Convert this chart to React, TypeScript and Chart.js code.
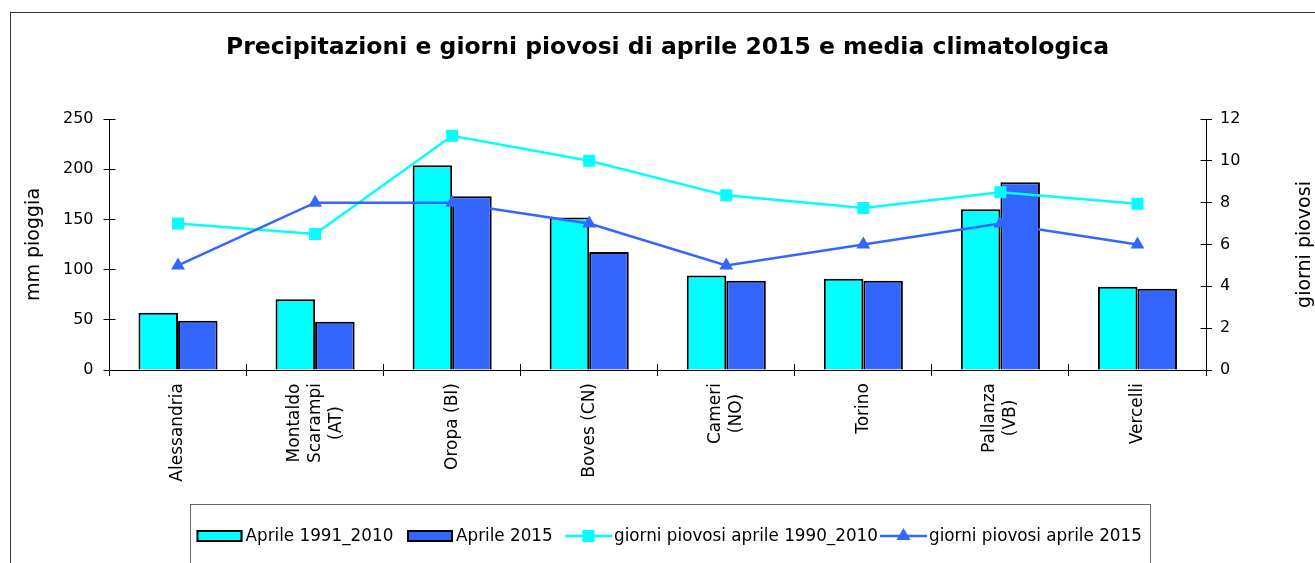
import React, { useEffect, useRef } from "react";
import { Chart, registerables } from "chart.js";

Chart.register(...registerables);

// ---------- data ----------
const categories: string[][] = [
  ["Alessandria"],
  ["Montaldo", "Scarampi", "(AT)"],
  ["Oropa (BI)"],
  ["Boves (CN)"],
  ["Cameri", "(NO)"],
  ["Torino"],
  ["Pallanza", "(VB)"],
  ["Vercelli"],
];
const rain1991_2010 = [57, 70.5, 204, 152, 94, 91, 160, 83];
const rain2015 = [49, 48, 173, 117.5, 89, 89, 187, 81];
const days1990_2010 = [7.0, 6.5, 11.2, 10.0, 8.35, 7.75, 8.5, 7.95];
const days2015 = [5, 8, 8, 7, 5, 6, 7, 6];
const seriesNames = [
  "Aprile 1991_2010",
  "Aprile 2015",
  "giorni piovosi aprile 1990_2010",
  "giorni piovosi aprile 2015",
];
const leftAxisRange = [0, 250, 50];
const rightAxisRange = [0, 12, 2];
const chartTitle = "Precipitazioni e giorni piovosi di aprile 2015 e media climatologica";
const leftAxisTitle = "mm pioggia";
const rightAxisTitle = "giorni piovosi";

// ---------- styles ----------
const FONT = "'DejaVu Sans', sans-serif";
const CYAN = "#00FFFF";
const BLUE = "#3366FF";
const W = 1315;
const H = 580;
const PLOT_BOTTOM = 358;
const LEGEND_ITEM_X = [186.5, 397, 555, 870];

const decorPlugin = {
  id: "decor",
  afterDraw(chart: any) {
    const ctx = chart.ctx as CanvasRenderingContext2D;
    const area = chart.chartArea;
    const xs = chart.scales.x;
    ctx.save();

    // outer border
    ctx.strokeStyle = "#333";
    ctx.lineWidth = 1;
    ctx.strokeRect(0.5, 0.5, W + 20, H + 20);

    // inner halves of tick marks
    ctx.strokeStyle = "#000";
    ctx.lineWidth = 1;
    const yl = chart.scales.y;
    const yr = chart.scales.y1;
    const lx = Math.round(area.left - 0.5) + 0.5;
    const rx = Math.round(area.right - 0.5) + 0.5;
    ctx.beginPath();
    yl.ticks.forEach((_: any, i: number) => {
      const py = Math.round(yl.getPixelForTick(i) - 0.5) + 0.5;
      ctx.moveTo(lx, py);
      ctx.lineTo(lx + 6, py);
    });
    yr.ticks.forEach((_: any, i: number) => {
      const py = Math.round(yr.getPixelForTick(i) - 0.5) + 0.5;
      ctx.moveTo(rx - 6, py);
      ctx.lineTo(rx, py);
    });
    const n = categories.length;
    const step = (area.right - area.left) / n;
    for (let i = 0; i <= n; i++) {
      const px = Math.round(area.left + i * step - 0.5) + 0.5;
      ctx.moveTo(px, area.bottom);
      ctx.lineTo(px, area.bottom - 6);
    }
    ctx.stroke();

    // category labels, rotated, lines centred on the category
    ctx.fillStyle = "#000";
    ctx.font = `17px ${FONT}`;
    ctx.textBaseline = "middle";
    ctx.textAlign = "center";
    const lh = 21;
    categories.forEach((lines, i) => {
      const cx = xs.getPixelForValue(i);
      const maxW = Math.max(...lines.map((l) => ctx.measureText(l).width));
      const cy = area.bottom + 13 + maxW / 2;
      lines.forEach((line, j) => {
        const px = cx + (j - (lines.length - 1) / 2) * lh;
        ctx.save();
        ctx.translate(px, cy);
        ctx.rotate(-Math.PI / 2);
        ctx.fillText(line, 0, 0);
        ctx.restore();
      });
    });

    // right axis title
    ctx.save();
    ctx.font = `19px ${FONT}`;
    ctx.translate(1295, (area.top + area.bottom) / 2);
    ctx.rotate(-Math.PI / 2);
    ctx.textAlign = "center";
    ctx.textBaseline = "middle";
    ctx.fillText(rightAxisTitle, 0, 0);
    ctx.restore();

    // legend
    ctx.strokeStyle = "#666";
    ctx.lineWidth = 1;
    ctx.strokeRect(180.5, 492.5, 960, 200);
    const ly = 524;
    ctx.font = `16.8px ${FONT}`;
    ctx.textAlign = "left";
    ctx.textBaseline = "middle";
    chart.data.datasets.forEach((ds: any, k: number) => {
      let x = LEGEND_ITEM_X[k];
      if (ds.type === "bar") {
        ctx.fillStyle = ds.backgroundColor;
        ctx.fillRect(x, ly - 6, 46, 12);
        ctx.strokeStyle = "#000";
        ctx.lineWidth = 2;
        ctx.strokeRect(x + 1, ly - 5, 44, 10);
        x += 49;
      } else {
        ctx.strokeStyle = ds.borderColor;
        ctx.lineWidth = ds.borderWidth;
        ctx.beginPath();
        ctx.moveTo(x, ly);
        ctx.lineTo(x + 47, ly);
        ctx.stroke();
        ctx.fillStyle = ds.borderColor;
        const mx = x + 23.5;
        if (ds.pointStyle === "rect") {
          ctx.fillRect(mx - 6, ly - 6, 12, 12);
        } else {
          ctx.beginPath();
          ctx.moveTo(mx, ly - 8);
          ctx.lineTo(mx + 7, ly + 4);
          ctx.lineTo(mx - 7, ly + 4);
          ctx.closePath();
          ctx.fill();
        }
        x += 49;
      }
      ctx.fillStyle = "#000";
      ctx.fillText(ds.label, x, ly + 1);
    });

    ctx.restore();
  },
};

export default function App() {
  const ref = useRef<HTMLCanvasElement | null>(null);

  useEffect(() => {
    if (!ref.current) return;
    const chart = new Chart(ref.current, {
      type: "bar",
      data: {
        labels: categories,
        datasets: [
          {
            type: "bar",
            label: seriesNames[0],
            data: rain1991_2010,
            backgroundColor: CYAN,
            borderColor: "#000",
            borderWidth: 2,
            yAxisID: "y",
            categoryPercentage: 0.577,
            barPercentage: 1,
            order: 2,
          },
          {
            type: "bar",
            label: seriesNames[1],
            data: rain2015,
            backgroundColor: BLUE,
            borderColor: "#000",
            borderWidth: 2,
            yAxisID: "y",
            categoryPercentage: 0.577,
            barPercentage: 1,
            order: 2,
          },
          {
            type: "line",
            label: seriesNames[2],
            data: days1990_2010,
            borderColor: CYAN,
            backgroundColor: CYAN,
            borderWidth: 2.5,
            pointStyle: "rect",
            pointRadius: 8.5,
            pointBorderWidth: 0,
            pointBackgroundColor: CYAN,
            tension: 0,
            yAxisID: "y1",
            order: 1,
          },
          {
            type: "line",
            label: seriesNames[3],
            data: days2015,
            borderColor: BLUE,
            backgroundColor: BLUE,
            borderWidth: 2.5,
            pointStyle: "triangle",
            pointRadius: 8,
            pointBorderWidth: 0,
            pointBackgroundColor: BLUE,
            tension: 0,
            yAxisID: "y1",
            order: 0,
          },
        ] as any,
      },
      options: {
        responsive: false,
        animation: false,
        devicePixelRatio: 1,
        layout: { padding: 0 },
        events: [],
        plugins: {
          legend: { display: false },
          tooltip: { enabled: false },
          title: {
            display: true,
            text: chartTitle,
            color: "#000",
            font: { family: FONT, size: 23.5, weight: "bold", lineHeight: 1.2 },
            padding: { top: 22, bottom: 56.8 },
          },
        },
        scales: {
          x: {
            type: "category",
            offset: true,
            grid: { offset: true, drawOnChartArea: false, drawTicks: true, tickLength: 6, color: "#000" },
            border: { color: "#000", width: 1 },
            ticks: { display: false },
            afterFit: (s: any) => {
              s.height = H - PLOT_BOTTOM;
            },
          },
          y: {
            position: "left",
            min: leftAxisRange[0],
            max: leftAxisRange[1],
            ticks: { stepSize: leftAxisRange[2], color: "#000", font: { family: FONT, size: 16 }, padding: 10 },
            grid: { drawOnChartArea: false, tickLength: 6, color: "#000" },
            border: { color: "#000", width: 1 },
            title: {
              display: true,
              text: leftAxisTitle,
              color: "#000",
              font: { family: FONT, size: 19 },
              padding: { top: 12.6, bottom: 0 },
            },
            afterFit: (s: any) => {
              s.width = 99.5;
            },
          },
          y1: {
            position: "right",
            min: rightAxisRange[0],
            max: rightAxisRange[1],
            ticks: { stepSize: rightAxisRange[2], color: "#000", font: { family: FONT, size: 16 }, padding: 8 },
            grid: { drawOnChartArea: false, tickLength: 6, color: "#000" },
            border: { color: "#000", width: 1 },
            afterFit: (s: any) => {
              s.width = 119;
            },
          },
        },
      } as any,
      plugins: [decorPlugin],
    });
    return () => chart.destroy();
  }, []);

  return (
    <div
      style={{
        position: "fixed",
        left: 0,
        top: 0,
        width: 1315,
        height: 563,
        overflow: "hidden",
        background: "#fff",
      }}
    >
      <canvas
        ref={ref}
        width={W}
        height={H}
        style={{ position: "absolute", left: 10, top: 12, width: W, height: H, display: "block" }}
      />
    </div>
  );
}
